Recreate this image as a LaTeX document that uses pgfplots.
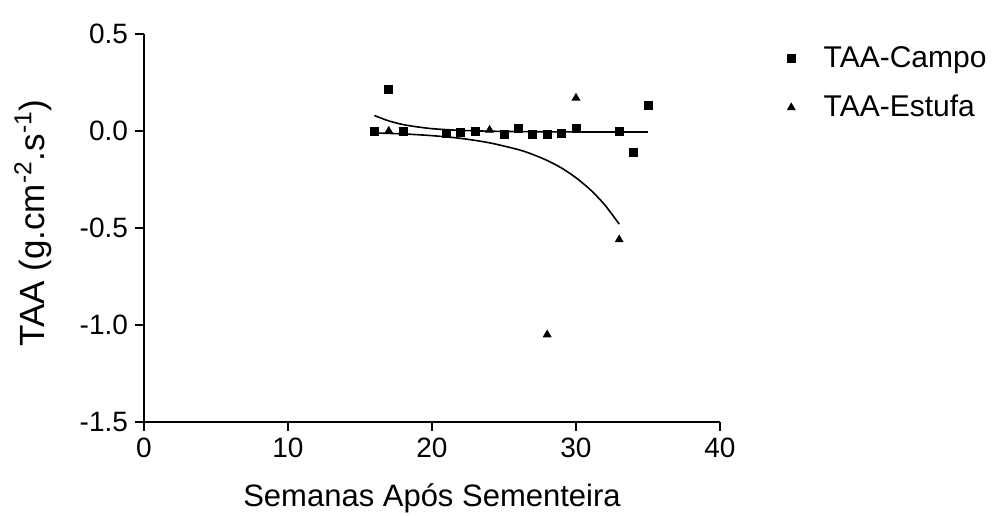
\documentclass[border=0pt]{standalone}
\usepackage{fontspec}
\setmainfont{Liberation Sans}
\usepackage{pgfplots}
\pgfplotsset{compat=1.18}
\begin{document}
\begin{tikzpicture}
\useasboundingbox (0,0) rectangle (500pt,257.5pt);
\begin{axis}[
  at={(72pt,46.5pt)}, anchor=south west,
  width=288pt, height=194pt, scale only axis,
  xmin=0, xmax=40, ymin=-1.5, ymax=0.5,
  axis x line*=bottom, axis y line*=left,
  axis line style={line width=1pt, -},
  xtick={0,10,20,30,40}, ytick={-1.5,-1,-0.5,0,0.5},
  tick align=outside, major tick length=4.5pt,
  tick style={line width=1pt, black},
  yticklabel style={/pgf/number format/.cd, fixed, fixed zerofill, precision=1},
  /pgf/number format/assume math mode=true,
  ticklabel style={font=\fontsize{14}{16}\selectfont},
  xlabel={Semanas Após Sementeira},
  ylabel={TAA (g.cm\textsuperscript{-2}.s\textsuperscript{-1})},
  xlabel style={at={(axis description cs:0.5,-0.196)}, anchor=center, font=\fontsize{15.5}{18}\selectfont},
  ylabel style={at={(axis description cs:-0.193,0.513)}, anchor=center, font=\fontsize{17.5}{20}\selectfont},
  legend style={at={(axis description cs:1.105,0.99)}, anchor=north west, draw=none, fill=none, font=\fontsize{15}{17}\selectfont, row sep=8.5pt},
  legend cell align=left,
  legend image code/.code={\draw[#1] plot coordinates {(0pt,0pt)}; \path (-2pt,0pt) (14pt,0pt);},
]
% fitted curves
\addplot[black, line width=0.8pt, smooth, forget plot] coordinates {
 (16,0.080) (17,0.052) (18,0.033) (19,0.021) (20,0.012) (21,0.007) (22,0.003)
 (23,0.001) (24,-0.001) (26,-0.003) (28,-0.004) (31,-0.005) (35,-0.005)};
\addplot[black, line width=0.8pt, smooth, forget plot] coordinates {
 (16,-0.010) (18,-0.015) (20,-0.024) (22,-0.038) (24,-0.061) (26,-0.096)
 (27,-0.121) (28,-0.152) (29,-0.191) (30,-0.241) (31,-0.303) (32,-0.381) (33,-0.480)};
\addplot[only marks, mark=square*, mark size=2pt, black] coordinates {
 (16,0.0) (17,0.215) (18,0.0) (21,-0.01) (22,-0.007) (23,0.0) (25,-0.02)
 (26,0.015) (27,-0.02) (28,-0.02) (29,-0.01) (30,0.014) (33,-0.003) (34,-0.11) (35,0.13)};
\addlegendentry{TAA-Campo}
\addplot[only marks, mark=triangle*, mark size=2.2pt, black] coordinates {
 (17,0.0) (24,0.005) (28,-1.05) (30,0.17) (33,-0.56)};
\addlegendentry{TAA-Estufa}
\end{axis}
\end{tikzpicture}
\end{document}
